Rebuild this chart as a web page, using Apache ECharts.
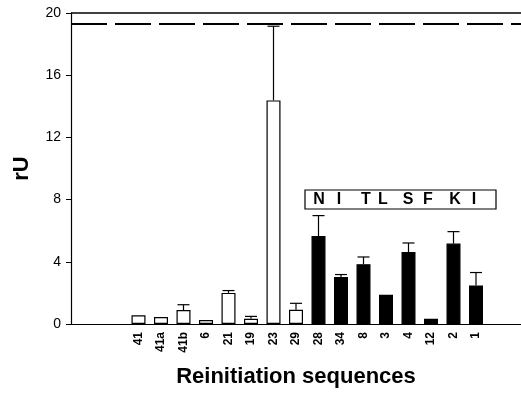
<!DOCTYPE html>
<html><head><meta charset="utf-8">
<script src="https://cdn.jsdelivr.net/npm/echarts@6/dist/echarts.min.js"></script>
<style>html,body{margin:0;padding:0;background:#fff}#c{width:521px;height:393px}</style>
</head><body><div id="c"></div>
<script>
const categories = ["", "", "", "41", "41a", "41b", "6", "21", "19", "23", "29", "28", "34", "8", "3", "4", "12", "2", "1", "", ""];
const values =     [null, null, null, 0.56, 0.45, 0.9, 0.26, 2.0, 0.34, 14.38, 0.92, 5.66, 3.03, 3.85, 1.88, 4.63, 0.34, 5.17, 2.48, null, null];
const errUpper =   [null, null, null, null, null, 1.24, null, 2.15, 0.49, 19.15, 1.33, 6.97, 3.18, 4.31, null, 5.21, null, 5.94, 3.31, null, null];
const filled =     [0,0,0, 0,0,0,0,0,0,0,0, 1,1,1,1,1,1,1,1, 0,0];
const yTicks = [0, 4, 8, 12, 16, 20];
const refLine = 19.3;
const topLine = 20;
const motif = ["N", "I", "T", "L", "S", "F", "K", "I"];

const chart = echarts.init(document.getElementById('c'));
const barData = values.map((v, i) => v == null ? null : {
  value: v,
  itemStyle: { color: filled[i] ? '#000' : '#fff', borderColor: '#000', borderWidth: 1.2 }
});
const errData = [];
errUpper.forEach((e, i) => { if (e != null) errData.push([i, values[i], e]); });

const motifX = [319, 339, 366, 383, 408, 428, 455, 474];
const graphics = [
  { type: 'rect', shape: { x: 305, y: 190, width: 191, height: 19 }, style: { fill: '#fff', stroke: '#000', lineWidth: 1.2 } }
];
motif.forEach((m, k) => graphics.push({
  type: 'text', x: motifX[k], y: 200,
  style: { text: m, font: 'bold 16px "Liberation Sans", Arial', fill: '#000', textAlign: 'center', textVerticalAlign: 'middle' }
}));

const font = '"Liberation Sans", Arial';
chart.setOption({
  animation: false,
  grid: { left: 71, right: 0, top: 13, bottom: 64 },
  xAxis: {
    type: 'category', data: categories, boundaryGap: false, position: 'bottom',
    axisLine: { onZero: false, lineStyle: { color: '#000', width: 1.2 } },
    axisTick: { show: false },
    axisLabel: { rotate: 90, interval: 0, color: '#000', fontWeight: 'bold', fontSize: 12, fontFamily: font, margin: 8 },
    name: 'Reinitiation sequences', nameLocation: 'middle', nameGap: 42,
    nameTextStyle: { fontSize: 22, fontWeight: 'bold', color: '#000', fontFamily: font },
    splitLine: { show: false }
  },
  yAxis: {
    type: 'value', min: 0, max: 20, interval: 4,
    axisLine: { show: true, lineStyle: { color: '#000', width: 1.2 } },
    axisTick: { show: true, inside: false, length: 5, lineStyle: { color: '#000' } },
    axisLabel: { color: '#000', fontSize: 14, fontFamily: font, margin: 10,
      formatter: v => yTicks.includes(v) ? String(v) : '' },
    splitLine: { show: false },
    name: 'rU', nameLocation: 'middle', nameGap: 38, nameRotate: 90,
    nameTextStyle: { fontSize: 22, fontWeight: 'bold', color: '#000', fontFamily: font }
  },
  series: [
    {
      type: 'bar', data: barData, barWidth: 14, z: 2,
      markLine: {
        silent: true, symbol: 'none', label: { show: false },
        data: [
          { yAxis: refLine, lineStyle: { type: [36, 8], color: '#000', width: 2 } }
        ]
      }
    },
    {
      type: 'custom', data: errData, z: 3,
      renderItem: (params, api) => {
        const x = api.value(0);
        const p0 = api.coord([x, api.value(1)]);
        const p1 = api.coord([x, api.value(2)]);
        const hw = 6;
        return { type: 'group', children: [
          { type: 'line', shape: { x1: p0[0], y1: p0[1], x2: p1[0], y2: p1[1] }, style: { stroke: '#000', lineWidth: 1.2 } },
          { type: 'line', shape: { x1: p1[0] - hw, y1: p1[1], x2: p1[0] + hw, y2: p1[1] }, style: { stroke: '#000', lineWidth: 1.2 } }
        ]};
      }
    },
    {
      type: 'custom', data: [[0, topLine]], z: 4, clip: false,
      renderItem: (params, api) => {
        const cs = params.coordSys;
        const y = api.coord([0, api.value(1)])[1];
        return { type: 'line', shape: { x1: cs.x, y1: y, x2: cs.x + cs.width + 5, y2: y }, style: { stroke: '#000', lineWidth: 1.3 } };
      }
    }
  ],
  graphic: graphics
});
</script></body></html>
